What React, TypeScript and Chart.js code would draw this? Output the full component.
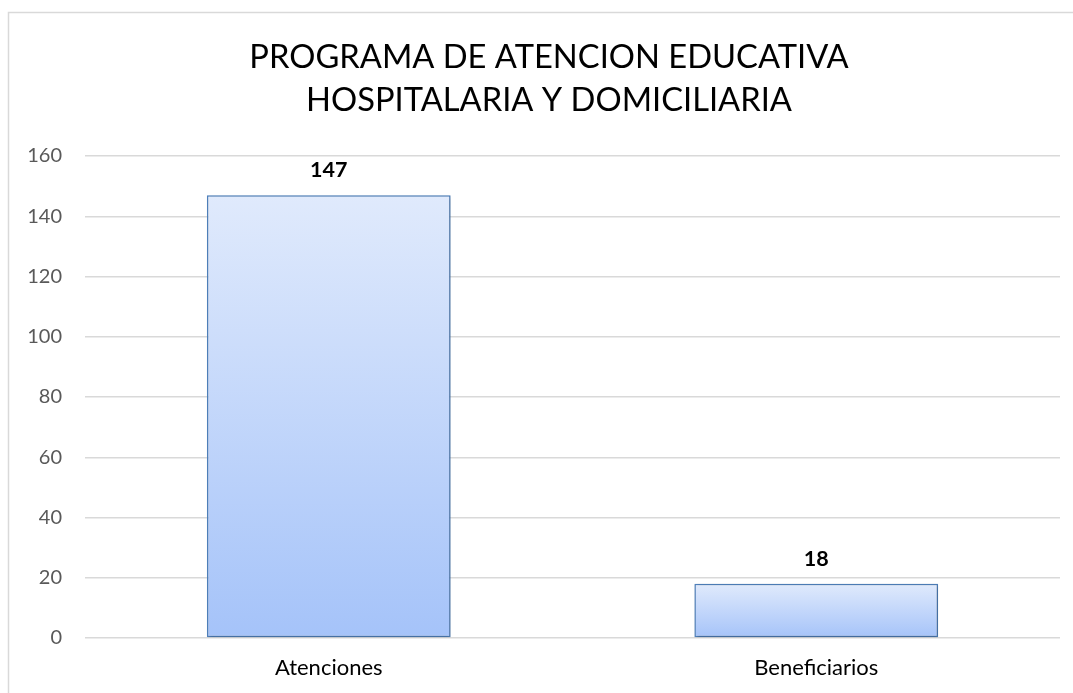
import React, { useEffect, useRef } from "react";
import { Chart, registerables } from "chart.js";

Chart.register(...registerables);

const categories: string[] = ["Atenciones", "Beneficiarios"];
const values: number[] = [147, 18];
const titleLines: string[] = ["PROGRAMA DE ATENCION EDUCATIVA", "HOSPITALARIA Y DOMICILIARIA"];
const yMin = 0;
const yMax = 160;
const yStep = 20;

const FONT = "Lato, 'Open Sans', sans-serif";

const framePlugin = {
  id: "frame",
  beforeDraw(chart: any) {
    const ctx = chart.ctx;
    ctx.save();
    ctx.fillStyle = "#ffffff";
    ctx.fillRect(0, 0, chart.width, chart.height);
    ctx.strokeStyle = "#d9d9d9";
    ctx.lineWidth = 1.5;
    ctx.beginPath();
    ctx.moveTo(8.5, chart.height + 2);
    ctx.lineTo(8.5, 12.5);
    ctx.lineTo(chart.width + 2, 12.5);
    ctx.stroke();
    // chart title (centered on the chart frame, as in the original)
    ctx.font = `32.7px ${FONT}`;
    ctx.fillStyle = "#000000";
    ctx.textAlign = "center";
    ctx.textBaseline = "middle";
    titleLines.forEach((line, i) => {
      ctx.fillText(line, 549, 57.5 + i * 42.9);
    });
    ctx.restore();
  },
};

const shadowPlugin = {
  id: "barShadow",
  beforeDatasetsDraw(chart: any) {
    const ctx = chart.ctx;
    ctx.save();
    ctx.shadowColor = "rgba(0,0,0,0.28)";
    ctx.shadowBlur = 3;
    ctx.shadowOffsetX = 1;
    ctx.shadowOffsetY = 1;
  },
  afterDatasetsDraw(chart: any) {
    chart.ctx.restore();
  },
};

const labelPlugin = {
  id: "valueLabels",
  afterDatasetsDraw(chart: any) {
    const ctx = chart.ctx;
    const meta = chart.getDatasetMeta(0);
    ctx.save();
    ctx.font = `bold 21.5px ${FONT}`;
    ctx.fillStyle = "#000000";
    ctx.textAlign = "center";
    ctx.textBaseline = "middle";
    meta.data.forEach((bar: any, i: number) => {
      ctx.fillText(String(values[i]), bar.x, bar.y - 25);
    });
    ctx.restore();
  },
};

export default function App() {
  const canvasRef = useRef<HTMLCanvasElement | null>(null);

  useEffect(() => {
    const canvas = canvasRef.current;
    if (!canvas) return;
    const chart = new Chart(canvas, {
      type: "bar",
      data: {
        labels: categories,
        datasets: [
          {
            data: values,
            backgroundColor: (context: any) => {
              const c = context.chart;
              const y = c.scales?.y;
              if (!y || context.type !== "data" || !c.chartArea) return "#c0d4fa";
              const top = y.getPixelForValue(context.raw);
              const bottom = y.getPixelForValue(0);
              if (!isFinite(top) || !isFinite(bottom) || top === bottom) return "#c0d4fa";
              const g = c.ctx.createLinearGradient(0, top, 0, bottom);
              g.addColorStop(0, "#e0eafc");
              g.addColorStop(1, "#a5c3f9");
              return g;
            },
            borderColor: "#4f81bd",
            borderWidth: 1.5,
            borderSkipped: false,
            categoryPercentage: 1,
            barPercentage: 0.5,
          },
        ],
      },
      options: {
        animation: false,
        responsive: false,
        maintainAspectRatio: false,
        layout: { padding: { top: 156, left: 0, right: 13, bottom: 0 } },
        plugins: {
          legend: { display: false },
          tooltip: { enabled: false },
          title: { display: false },
        },
        scales: {
          x: {
            grid: { display: false, drawTicks: false },
            border: { display: false },
            ticks: { color: "#000000", font: { family: FONT, size: 22 }, padding: 17 },
            afterFit: (scale: any) => {
              scale.height = 55;
            },
          },
          y: {
            min: yMin,
            max: yMax,
            grid: { color: "#d9d9d9", lineWidth: 1.5, drawTicks: false },
            border: { display: false },
            ticks: {
              stepSize: yStep,
              color: "#595959",
              font: { family: FONT, size: 20 },
              padding: 23,
            },
            afterFit: (scale: any) => {
              scale.width = 85;
            },
          },
        },
      },
      plugins: [framePlugin, shadowPlugin, labelPlugin],
    } as any);
    chart.update();
    return () => chart.destroy();
  }, []);

  return (
    <div style={{ position: "fixed", left: 0, top: 0, width: 1073, height: 693, overflow: "hidden" }}>
      <canvas ref={canvasRef} width={1073} height={693} style={{ display: "block" }} />
    </div>
  );
}
